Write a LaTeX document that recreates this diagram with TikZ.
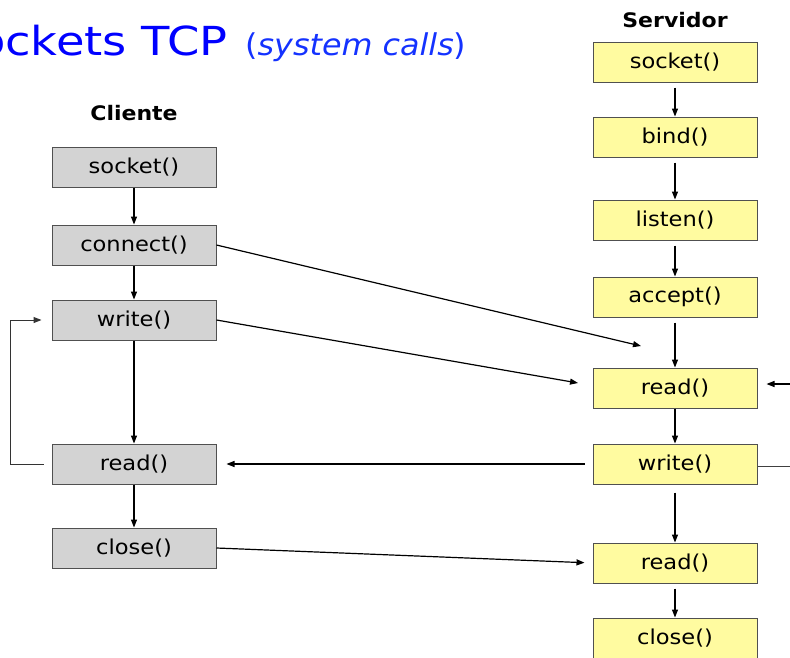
\documentclass[tikz,border=0pt]{standalone}
\usepackage{fontspec}
\setmainfont{DejaVu Sans}
\usetikzlibrary{arrows.meta}
\definecolor{titleblue}{RGB}{0,0,255}
\definecolor{subblue}{RGB}{20,50,255}
\definecolor{cligray}{RGB}{211,211,211}
\definecolor{srvyellow}{RGB}{255,251,160}
\definecolor{boxline}{RGB}{80,80,80}
\tikzset{
  callbox/.style={draw=boxline, line width=1pt, minimum width=164pt, minimum height=40pt,
    inner sep=0pt, font=\fontsize{20.5}{24}\selectfont\addfontfeature{FakeStretch=1.1}},
  clibox/.style={callbox, fill=cligray},
  srvbox/.style={callbox, fill=srvyellow},
  colhead/.style={font=\fontsize{20}{24}\selectfont\bfseries\addfontfeature{FakeStretch=1.1}},
  arr/.style={line width=1.2pt, -{Triangle[length=8pt,width=6pt]}},
  plain/.style={line width=1pt, draw=black!75},
}
\begin{document}
\begin{tikzpicture}[x=1pt, y={(0,-1pt)}]
\useasboundingbox (0,0) rectangle (790,657);
\clip (0,0) rectangle (790,657);

% title
\node (title) [anchor=base east, inner sep=0pt, text=titleblue,
  font=\fontsize{40}{46}\selectfont\addfontfeature{FakeStretch=1.16}]
  at (228,55) {Sockets TCP};
\node (subtitle) [anchor=base west, inner sep=0pt, text=subblue,
  font=\fontsize{30}{36}\selectfont\addfontfeature{FakeStretch=1.06}]
  at (245,55) {(\textit{system calls})};

% column headings
\node (hcli) [colhead] at (134,113) {Cliente};
\node (hsrv) [colhead] at (675,20) {Servidor};

% client calls
\node (cSocket)  [clibox] at (134,167) {socket()};
\node (cConnect) [clibox] at (134,245) {connect()};
\node (cWrite)   [clibox] at (134,320) {write()};
\node (cRead)    [clibox] at (134,464) {read()};
\node (cClose)   [clibox] at (134,548) {close()};

% server calls
\node (sSocket)  [srvbox] at (675,62)  {socket()};
\node (sBind)    [srvbox] at (675,137) {bind()};
\node (sListen)  [srvbox] at (675,220) {listen()};
\node (sAccept)  [srvbox] at (675,297) {accept()};
\node (sRead)    [srvbox] at (675,388) {read()};
\node (sWrite)   [srvbox] at (675,464) {write()};
\node (sRead2)   [srvbox] at (675,563) {read()};
\node (sClose)   [srvbox] at (675,638) {close()};

% client flow
\draw[arr] (cSocket)  -- (cConnect);
\draw[arr] (cConnect) -- (cWrite);
\draw[arr] (cWrite)   -- (cRead);
\draw[arr] (cRead)    -- (cClose);
\draw[arr, line width=1pt, draw=black!80, shorten <=8pt, shorten >=10pt]
  (cRead.west) -- ++(-41,0) |- (cWrite.west);

% server flow
\draw[arr, shorten <=5pt] (sSocket) -- (sBind);
\draw[arr, shorten <=5pt] (sBind)   -- (sListen);
\draw[arr, shorten <=5pt] (sListen) -- (sAccept);
\draw[arr, shorten <=5pt] (sAccept) -- (sRead);
\draw[arr] (sRead)   -- (sWrite);
\draw[arr, shorten <=8pt] (sWrite) -- (sRead2);
\draw[arr, shorten <=5pt] (sRead2) -- (sClose);

% messages between client and server
\coordinate (connTip) at (641,346);
\coordinate (wrTip) at (578,383);
\draw[arr] (cConnect.east) -- (connTip);
\draw[arr] (cWrite.east) -- (wrTip);
\draw[arr, shorten <=8pt, shorten >=10pt] (sWrite.west) -- (cRead.east);
\draw[arr, shorten >=8pt] (cClose.east) -- (sRead2.west);

% loop on the server side, leaving the picture to the right
\coordinate (loopIn) at (795,384);
\draw[arr, shorten >=9pt] (loopIn) -- (loopIn -| sRead.east);
\coordinate (loopOut) at (795,466);
\draw[plain] (sWrite.east |- loopOut) -- (loopOut);
\end{tikzpicture}
\end{document}
